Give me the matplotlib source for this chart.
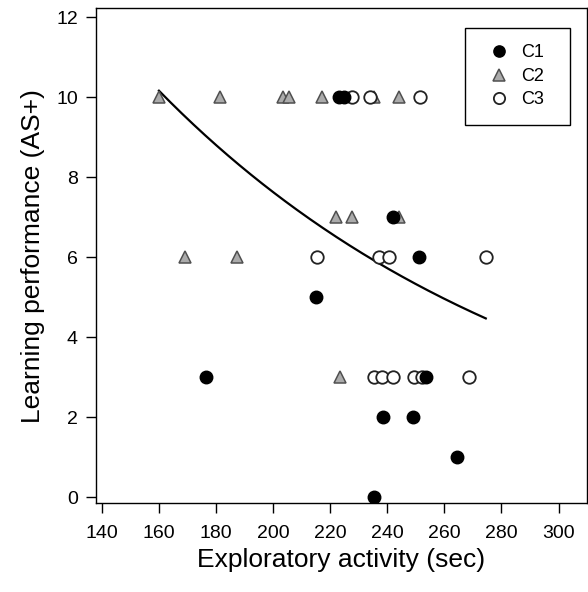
import numpy as np, matplotlib
matplotlib.use("Agg")
import matplotlib.pyplot as plt

plt.rcParams.update({"font.family": ["Liberation Sans", "DejaVu Sans"], "font.size": 11})

# C1 (filled circles)
c1_x = [223, 225, 242, 251, 215, 176.5, 253.5, 238.5, 249, 264.5, 235.5]
c1_y = [10, 10, 7, 6, 5, 3, 3, 2, 2, 1, 0]
# C2 (grey triangles)
c2_x = [160, 181.5, 203.5, 205.5, 217, 235.5, 244, 222, 227.5, 244, 169, 187.3, 223.5]
c2_y = [10, 10, 10, 10, 10, 10, 10, 7, 7, 7, 6, 6, 3]
# C3 (open circles)
c3_x = [227.5, 234, 251.5, 215.3, 237, 240.5, 274.5, 235.5, 238, 242, 249.5, 252, 268.5]
c3_y = [10, 10, 10, 6, 6, 6, 6, 3, 3, 3, 3, 3, 3]
# points
fit_x = [160, 198, 223.4, 246.8, 274.5]
fit_y = [10.2, 7.7, 6.45, 5.45, 4.48]

fig = plt.figure(figsize=(5.88, 5.92), dpi=100)
ax = fig.add_axes([0.163, 0.150, 0.835, 0.836])

# exponential decay through the read curve points
b, lna = np.polyfit(fit_x, np.log(fit_y), 1)
xs = np.linspace(min(fit_x), max(fit_x), 200)
ax.plot(xs, np.exp(lna + b * xs), color="black", lw=1.6, zorder=2)

ms = 9
ax.plot(c2_x, c2_y, "^", ms=ms, mfc="#ababab", mec="#505050", mew=1.1, ls="none", label="C2", zorder=3)
ax.plot(c3_x, c3_y, "o", ms=ms, mfc="white", mec="#222222", mew=1.3, ls="none", label="C3", zorder=3)
ax.plot(c1_x, c1_y, "o", ms=ms, mfc="black", mec="black", ls="none", label="C1", zorder=4)

ax.set_xlim(137.9, 309.9)
ax.set_ylim(-0.15, 12.225)
ax.set_xticks(range(140, 301, 20))
ax.set_yticks(range(0, 13, 2))
ax.tick_params(direction="out", length=7, width=1, labelsize=14)
ax.tick_params(axis="x", pad=9)
ax.tick_params(axis="y", pad=6)
for s in ax.spines.values():
    s.set_linewidth(1)
ax.set_xlabel("Exploratory activity (sec)", fontsize=19, labelpad=4)
ax.set_ylabel("Learning performance (AS+)", fontsize=19, labelpad=8)

h, l = ax.get_legend_handles_labels()
order = [l.index(k) for k in ["C1", "C2", "C3"]]
leg = ax.legend([h[i] for i in order], [l[i] for i in order], loc="upper left",
                bbox_to_anchor=(0.7515, 0.5, 0.2138, 0.46), mode="expand",
                fancybox=False, edgecolor="black",
                framealpha=1, fontsize=13, handlelength=2.0, handletextpad=0.2,
                borderpad=0.9, labelspacing=0.36, markerscale=0.9, borderaxespad=0)
leg.get_frame().set_linewidth(1)

fig.savefig("out.png", dpi=100)
